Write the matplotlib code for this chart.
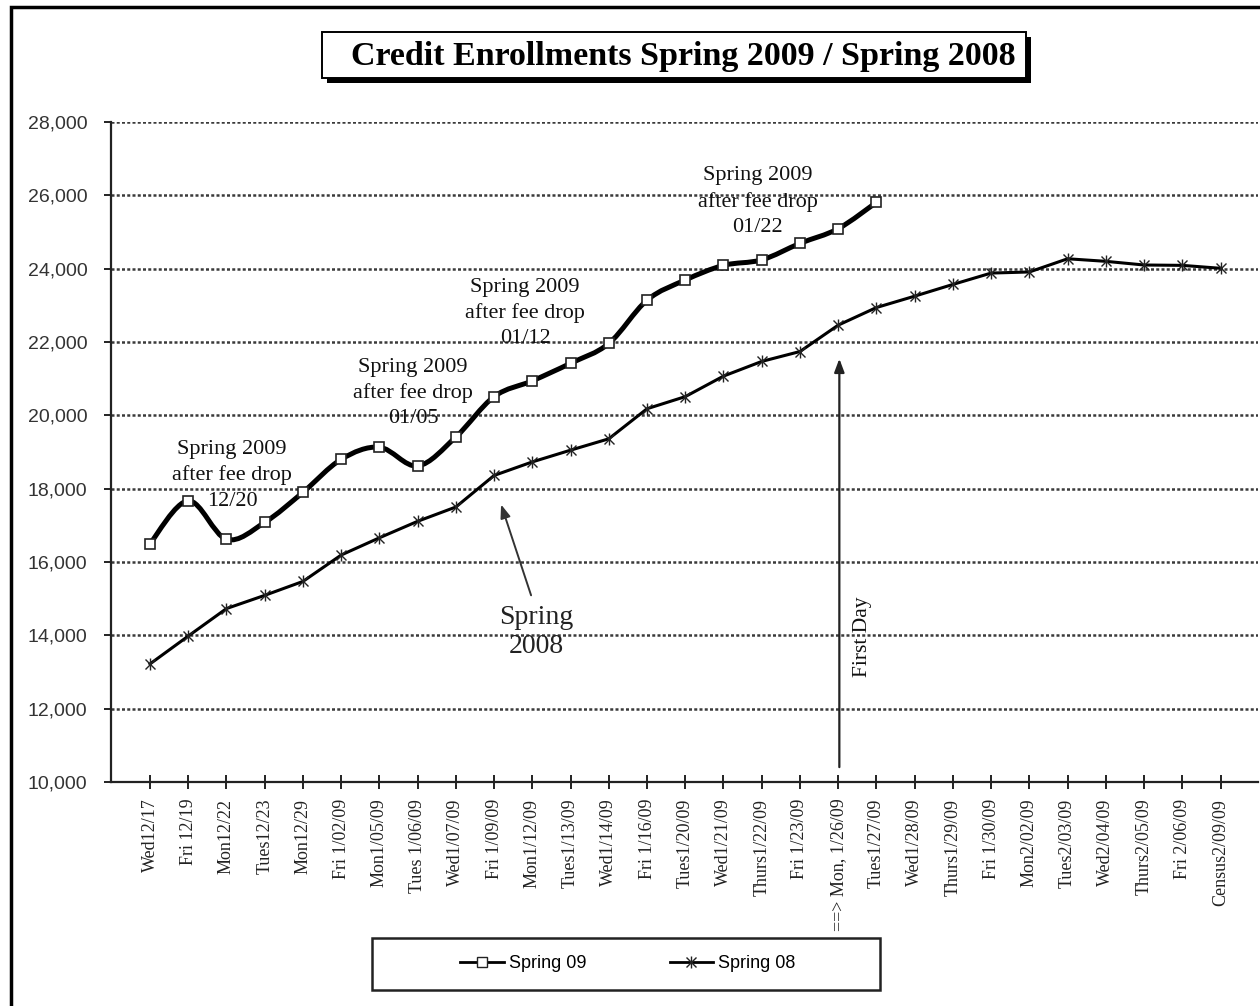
import numpy as np
import matplotlib
matplotlib.use("Agg")
import matplotlib.pyplot as plt
from matplotlib.path import Path
from matplotlib.patches import PathPatch, Rectangle
from matplotlib.lines import Line2D
from matplotlib.legend_handler import HandlerTuple

categories = ["Wed12/17", "Fri 12/19", "Mon12/22", "Tues12/23", "Mon12/29",
              "Fri 1/02/09", "Mon1/05/09", "Tues 1/06/09", "Wed1/07/09", "Fri 1/09/09",
              "Mon1/12/09", "Tues1/13/09", "Wed1/14/09", "Fri 1/16/09", "Tues1/20/09",
              "Wed1/21/09", "Thurs1/22/09", "Fri 1/23/09", "==> Mon, 1/26/09", "Tues1/27/09",
              "Wed1/28/09", "Thurs1/29/09", "Fri 1/30/09", "Mon2/02/09", "Tues2/03/09",
              "Wed2/04/09", "Thurs2/05/09", "Fri 2/06/09", "Census2/09/09"]

spring09 = [16500, 17670, 16620, 17080, 17900, 18800, 19130, 18620, 19410, 20510,
            20940, 21420, 21960, 23140, 23690, 24090, 24240, 24690, 25090, 25810]

spring08 = [13220, 13980, 14730, 15090, 15470, 16190, 16660, 17110, 17500, 18360,
            18730, 19050, 19360, 20180, 20510, 21070, 21470, 21740, 22460, 22940,
            23250, 23570, 23880, 23910, 24270, 24200, 24100, 24090, 24010]

title = "Credit Enrollments Spring 2009 / Spring 2008"
yticks = list(range(10000, 28001, 2000))

W, H = 1260, 1006
fig = plt.figure(figsize=(W / 100, H / 100), dpi=100)
fig.patch.set_facecolor("white")

def fx(px):
    return px / W

def fy(py):
    return 1 - py / H

ax = fig.add_axes([fx(111), fy(782), fx(1258) - fx(111), fy(122) - fy(782)])
ax.set_xlim(-1.02, 28.98)
ax.set_ylim(10000, 28000)

# grid
for v in yticks[1:]:
    ax.axhline(v, color="#3a3a3a", lw=1.8, ls=(0, (1.2, 0.9)), zorder=1)

# smooth Spring 09 line (Bezier through data, Excel-like smoothing)
x9 = np.arange(len(spring09), dtype=float)
y9 = np.array(spring09, dtype=float)
verts = [(x9[0], y9[0])]
codes = [Path.MOVETO]
n = len(x9)
for i in range(n - 1):
    p0 = np.array([x9[max(i - 1, 0)], y9[max(i - 1, 0)]])
    p1 = np.array([x9[i], y9[i]])
    p2 = np.array([x9[i + 1], y9[i + 1]])
    p3 = np.array([x9[min(i + 2, n - 1)], y9[min(i + 2, n - 1)]])
    c1 = p1 + (p2 - p0) / 6.0
    c2 = p2 - (p3 - p1) / 6.0
    verts += [tuple(c1), tuple(c2), tuple(p2)]
    codes += [Path.CURVE4] * 3
ax.add_patch(PathPatch(Path(verts, codes), facecolor="none", edgecolor="black",
                       lw=3.6, capstyle="round", joinstyle="round", zorder=4))
ax.plot(x9, y9, ls="none", marker="s", ms=7, mfc="white", mec="#222222", mew=1.2, zorder=5)

# Spring 08 line
x8 = np.arange(len(spring08))
ax.plot(x8, spring08, color="black", lw=2.2, zorder=3)
ax.plot(x8, spring08, ls="none", marker="x", ms=7, mec="#222222", mew=1.0, zorder=4)
ax.plot(x8, spring08, ls="none", marker="|", ms=9, mec="#222222", mew=1.0, zorder=4)

# axes styling
for s in ["top", "right"]:
    ax.spines[s].set_visible(False)
for s in ["left", "bottom"]:
    ax.spines[s].set_color("#222222")
    ax.spines[s].set_linewidth(1.6)
ax.set_yticks(yticks)
ax.set_yticklabels([f"{v:,}" for v in yticks], family="Liberation Sans", fontsize=14, color="#333333")
ax.tick_params(axis="y", direction="out", length=5, width=1.4, color="#222222", pad=12)
ax.set_xticks(range(len(categories)))
ax.set_xticklabels(categories, rotation=90, family="Liberation Serif", fontsize=13,
                   color="#222222", va="top")
ax.tick_params(axis="x", direction="inout", length=10, width=1.4, color="#222222", pad=7)

serif = "Liberation Serif"
ann_kw = dict(family=serif, fontsize=16, ha="center", va="center", linespacing=1.45,
              color="#111111", zorder=6)
ax.text(2.15, 18370, "Spring 2009\nafter fee drop\n12/20", **ann_kw)
ax.text(6.88, 20610, "Spring 2009\nafter fee drop\n01/05", **ann_kw)
ax.text(9.81, 22790, "Spring 2009\nafter fee drop\n01/12", **ann_kw)
ax.text(15.89, 25820, "Spring 2009\nafter fee drop\n01/22", **ann_kw)

ax.text(10.1, 14100, "Spring\n2008", family=serif, fontsize=20, ha="center", va="center",
        linespacing=1.2, color="#222222")
ax.annotate("", xy=(9.16, 17640), xytext=(9.99, 15020),
            arrowprops=dict(arrowstyle="-|>,head_length=0.8,head_width=0.3", color="#333333", lw=1.4))

ax.annotate("", xy=(18.03, 21620), xytext=(18.03, 10330),
            arrowprops=dict(arrowstyle="-|>,head_length=0.8,head_width=0.3", color="#222222", lw=1.6))
ax.text(18.63, 13960, "First Day", family=serif, fontsize=15.5, rotation=90,
        ha="center", va="center", color="#111111")

# outer frame
fig.add_artist(Rectangle((fx(11), fy(1030)), fx(1290) - fx(11), fy(7) - fy(1030),
                         transform=fig.transFigure, fill=False, edgecolor="black", lw=2.5))

# title box with shadow
fig.add_artist(Rectangle((fx(327), fy(83)), fx(1031) - fx(327), fy(37) - fy(83),
                         transform=fig.transFigure, facecolor="black", edgecolor="black", lw=0))
fig.add_artist(Rectangle((fx(322), fy(78)), fx(1026) - fx(322), fy(32) - fy(78),
                         transform=fig.transFigure, facecolor="white", edgecolor="black", lw=1.4))
fig.text(fx(683), fy(57), title, family=serif, fontweight="bold", fontsize=24.5,
         ha="center", va="center", color="black")

# legend
fig.add_artist(Rectangle((fx(372), fy(990)), fx(880) - fx(372), fy(938) - fy(990),
                         transform=fig.transFigure, facecolor="white", edgecolor="#222222", lw=1.8))
h09 = Line2D([], [], color="black", lw=2, marker="s", ms=7, mfc="white", mec="#222222")
h08a = Line2D([], [], color="black", lw=2, marker="x", ms=7, mec="#222222")
h08b = Line2D([], [], color="black", lw=0, marker="|", ms=9, mec="#222222")
leg = fig.legend([h09, (h08a, h08b)], ["Spring 09", "Spring 08"],
                 handler_map={tuple: HandlerTuple(ndivide=1, pad=0)},
                 loc="center", bbox_to_anchor=(fx(628), fy(964)), ncol=2, frameon=False,
                 prop={"family": "Liberation Sans", "size": 13}, handlelength=2.4,
                 columnspacing=4.6, handletextpad=0.3)

fig.savefig("out.png", dpi=100)
